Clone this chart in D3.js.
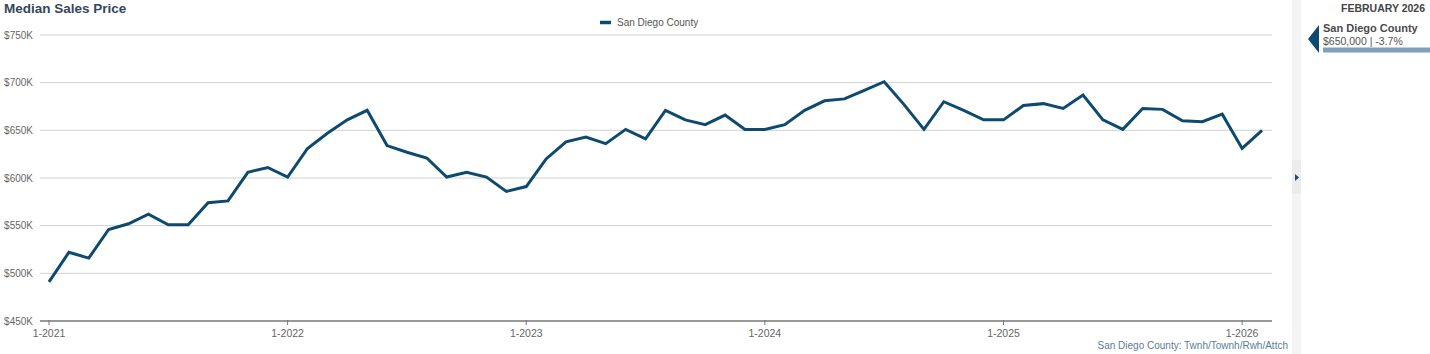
<!DOCTYPE html>
<html>
<head>
<meta charset="utf-8">
<script src="https://cdn.jsdelivr.net/npm/d3@7"></script>
<style>
  body { margin: 0; background: #fff; font-family: Arial, "Liberation Sans", sans-serif; }
  svg text { font-family: Arial, "Liberation Sans", sans-serif; }
</style>
</head>
<body>
<svg id="chart" width="1430" height="354"></svg>
<script>
// monthly median sales price, 1-2021 .. 2-2026 (thousands)
var prices = [
  491, 522, 516, 546, 552, 562, 551, 551, 574, 576, 606, 611,
  601, 631, 647, 661, 671, 634, 627, 621, 601, 606, 601, 586,
  591, 620, 638, 643, 636, 651, 641, 671, 661, 656, 666, 651,
  651, 656, 671, 681, 683, 692, 701, 677, 651, 680, 671, 661,
  661, 676, 678, 673, 687, 661, 651, 673, 672, 660, 659, 667,
  631, 650
];
var yTicks = [450, 500, 550, 600, 650, 700, 750];
var xTickLabels = ['1-2021', '1-2022', '1-2023', '1-2024', '1-2025', '1-2026'];
var seriesName = 'San Diego County';
var lineColor = '#0e4a70';

var svg = d3.select('#chart');
var plot = {left: 40, right: 1272, top: 35, bottom: 321};

var x = d3.scaleLinear().domain([0, prices.length - 1]).range([49, 1262]);
var y = d3.scaleLinear().domain([450, 750]).range([plot.bottom, plot.top]);

// title
svg.append('text')
   .attr('x', 4).attr('y', 13)
   .attr('font-size', 13.5).attr('font-weight', 'bold')
   .attr('fill', '#34475c')
   .text('Median Sales Price');

// legend
svg.append('line')
   .attr('x1', 600).attr('x2', 611).attr('y1', 22.5).attr('y2', 22.5)
   .attr('stroke', lineColor).attr('stroke-width', 3.5);
svg.append('text')
   .attr('x', 617).attr('y', 26)
   .attr('font-size', 10).attr('fill', '#555')
   .text(seriesName);

// gridlines + y labels
var yAxis = svg.append('g').attr('class', 'axis');
yAxis.selectAll('line')
     .data(yTicks.filter(d => d !== 450))
     .enter()
     .append('line')
     .attr('x1', plot.left).attr('x2', plot.right)
     .attr('y1', d => y(d)).attr('y2', d => y(d))
     .attr('stroke', '#d0d0d0').attr('stroke-width', 1);
yAxis.selectAll('text')
     .data(yTicks)
     .enter()
     .append('text')
     .attr('x', 33).attr('y', d => y(d) + 3.5)
     .attr('text-anchor', 'end')
     .attr('font-size', 10).attr('fill', '#666')
     .text(d => '$' + d + 'K');

// x axis
svg.append('line')
   .attr('x1', plot.left).attr('x2', plot.right)
   .attr('y1', plot.bottom).attr('y2', plot.bottom)
   .attr('stroke', '#777').attr('stroke-width', 1.5);
var xAxis = svg.append('g');
xTickLabels.forEach((lab, i) => {
  var xp = x(i * 12);
  xAxis.append('line')
       .attr('x1', xp).attr('x2', xp)
       .attr('y1', plot.bottom - 1).attr('y2', plot.bottom + 4)
       .attr('stroke', '#777').attr('stroke-width', 1);
  xAxis.append('text')
       .attr('x', xp).attr('y', 337)
       .attr('text-anchor', 'middle')
       .attr('font-size', 10.5).attr('fill', '#666')
       .text(lab);
});

// the line
var line = d3.line().x((d, i) => x(i)).y(d => y(d));
svg.append('path')
   .datum(prices)
   .attr('d', line)
   .attr('fill', 'none')
   .attr('stroke', lineColor)
   .attr('stroke-width', 3)
   .attr('stroke-linejoin', 'miter');

// source note
svg.append('text')
   .attr('x', 1288).attr('y', 349)
   .attr('text-anchor', 'end')
   .attr('font-size', 10).attr('fill', '#5b7d9c')
   .text(seriesName + ': Twnh/Townh/Rwh/Attch');

// side divider
svg.append('rect')
   .attr('x', 1292).attr('y', 0).attr('width', 9).attr('height', 354)
   .attr('fill', '#f4f4f4');
svg.append('rect')
   .attr('x', 1292).attr('y', 160).attr('width', 9).attr('height', 34)
   .attr('fill', '#ececec');
svg.append('path')
   .attr('d', 'M1295,174 L1299,177.5 L1295,181 Z')
   .attr('fill', '#1d4e72');

// right panel
svg.append('text')
   .attr('x', 1425).attr('y', 12)
   .attr('text-anchor', 'end')
   .attr('font-size', 10.5).attr('font-weight', 'bold')
   .attr('fill', '#444')
   .text('FEBRUARY 2026');
svg.append('path')
   .attr('d', 'M1308,39 L1319,25 L1319,53 Z')
   .attr('fill', '#0e4a70');
svg.append('text')
   .attr('x', 1323).attr('y', 32)
   .attr('font-size', 11).attr('font-weight', 'bold')
   .attr('fill', '#4a4a4a')
   .text(seriesName);
svg.append('text')
   .attr('x', 1323).attr('y', 45)
   .attr('font-size', 10.5)
   .attr('fill', '#555')
   .text('$650,000 | -3.7%');
svg.append('rect')
   .attr('x', 1323).attr('y', 47.5).attr('width', 107).attr('height', 5)
   .attr('fill', '#7f9fbb');
</script>
</body>
</html>
